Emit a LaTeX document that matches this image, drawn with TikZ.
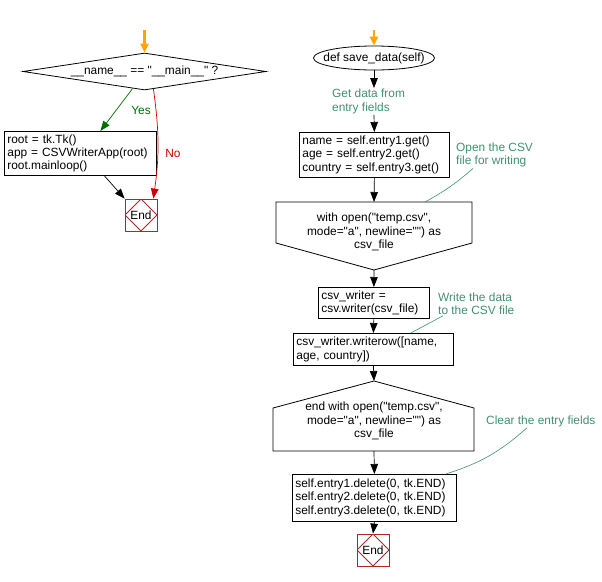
\documentclass[tikz,border=0pt]{standalone}
\usepackage{fontspec}
\setmainfont{Liberation Sans}[Ligatures=TeXOff]
\usepackage{xcolor}
\usetikzlibrary{positioning, shapes.geometric, arrows.meta, calc}
\definecolor{noteteal}{RGB}{64,144,112}
\definecolor{endred}{RGB}{170,40,40}
\definecolor{yesgreen}{RGB}{0,110,0}
\definecolor{nored}{RGB}{204,0,0}
\definecolor{startorange}{RGB}{255,165,0}

\begin{document}
\begin{tikzpicture}[
  x=1pt, y=-1pt,
  >={Triangle[length=10pt,width=7.5pt]},
  every node/.style={font=\fontsize{11.9}{13.4}\selectfont},
  codebox/.style={draw, line width=0.8pt, anchor=north west, align=left, inner xsep=3pt, inner ysep=0pt},
  endmark/.style={draw=endred, line width=0.8pt, minimum size=32pt, inner sep=0pt,
    path picture={\draw[endred, line width=0.8pt] (path picture bounding box.north) -- (path picture bounding box.east)
      -- (path picture bounding box.south) -- (path picture bounding box.west) -- cycle;}},
  notetext/.style={noteteal, align=left, anchor=west, inner sep=1pt},
  leaderline/.style={noteteal, line width=0.6pt},
  flowline/.style={->, line width=0.7pt},
  startflow/.style={-{Triangle[length=9pt,width=8pt]}, startorange, line width=2.5pt}
]
\useasboundingbox (0,0) rectangle (602,581);

% Main guard (left)
\coordinate (startA) at (144.5,30);
\node[diamond, draw, line width=0.8pt, aspect=7, inner sep=0pt, minimum width=243pt, minimum height=37pt]
  (cond) at (144.5,71.5) {\_\_name\_\_ == "\_\_main\_\_" ?};
\node[codebox, text width=146pt, minimum height=44pt] (mainbox) at (4,131)
  {root = tk.Tk()\\app = CSVWriterApp(root)\\root.mainloop()};
\node[endmark] (endA) at (141,215) {End};
\node[yesgreen] (yeslabel) at (141,110) {Yes};
\node[nored] (nolabel) at (173,153) {No};

\draw[startflow] (startA) -- (cond.north);
\draw[flowline, yesgreen] (cond.235) -- ($(mainbox.north)+(20,0)$);
\draw[flowline, nored] (cond.297) to[bend left=8] (endA.53);
\draw[flowline] ($(mainbox.south)+(24,0)$) -- (endA.north west);

% save_data (right)
\coordinate (startB) at (374,30);
\node[ellipse, draw, line width=0.8pt, minimum width=121pt, minimum height=24pt, inner sep=0pt]
  (defnode) at (374,58) {\makebox[0pt]{def save\_data(self)}};
\node[notetext] (getnote) at (331,101.5) {Get data from\\entry fields};
\node[codebox, text width=144pt, minimum height=45pt] (getbox) at (299,132)
  {name = self.entry1.get()\\age = self.entry2.get()\\country = self.entry3.get()};
\node[notetext] (opennote) at (455,155) {Open the CSV\\file for writing};

% with block
\draw[line width=0.8pt] (276,202) -- (472,202) -- (472,243) -- (374,270) -- (276,243) -- cycle;
\coordinate (withtop) at (374,202);
\coordinate (withtip) at (374,270);
\coordinate (openpin) at (425,202);
\node[align=center] (withtxt) at (374,232) {with open("temp.csv",\\mode="a", newline="") as\\csv\_file};

\node[codebox, text width=105pt, minimum height=31pt] (writerbox) at (318,287)
  {csv\_writer =\\csv.writer(csv\_file)};
\node[notetext] (writenote) at (437,303.5) {Write the data\\to the CSV file};
\node[codebox, text width=154pt, minimum height=32pt] (rowbox) at (293,333)
  {csv\_writer.writerow([name,\\age, country])};

% end with block
\draw[line width=0.8pt] (374,381) -- (474,408) -- (474,451) -- (273,451) -- (273,408) -- cycle;
\coordinate (ewtop) at (374,381);
\coordinate (ewbot) at (374,451);
\node[align=center] (endwithtxt) at (374,421) {end with open("temp.csv",\\mode="a", newline="") as\\csv\_file};

\node[notetext] (clearnote) at (485,421) {Clear the entry fields};
\node[codebox, text width=158pt, minimum height=47pt] (clearbox) at (292,474)
  {self.entry1.delete(0, tk.END)\\self.entry2.delete(0, tk.END)\\self.entry3.delete(0, tk.END)};
\node[endmark] (endB) at (373,550) {End};

\draw[startflow] (startB) -- (defnode.north);
\draw[flowline] (defnode.south) -- (defnode.south |- getnote.north);
\draw[flowline] (defnode.south |- getnote.south) -- (getbox.north);
\draw[flowline] (getbox.south) -- (withtop);
\draw[flowline] (withtip) -- (writerbox.north);
\draw[flowline] (writerbox.south) -- (rowbox.north);
\draw[flowline] (rowbox.south) -- (ewtop);
\draw[flowline] (ewbot) -- (clearbox.north);
\draw[flowline] (clearbox.south) -- (endB.north);

% Leader lines
\draw[leaderline] ($(opennote.south west)+(18,0)$) to[bend left=6] (openpin);
\draw[leaderline] ($(writenote.south west)+(6,0)$) -- ($(rowbox.north east)+(-43,0)$);
\draw[leaderline] ($(clearnote.south west)+(42,0)$) to[bend left=12] ($(clearbox.north east)+(-11,0)$);

\end{tikzpicture}
\end{document}
